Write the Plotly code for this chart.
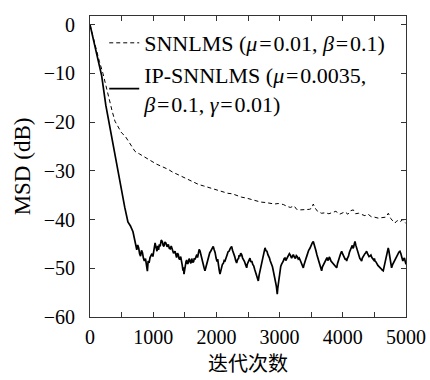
import plotly.graph_objects as go

# SNNLMS (dashed)
snn_iter = [0, 50, 100, 150, 205, 250, 300, 350, 395, 450, 500, 553, 600, 650, 712, 780, 840, 900, 976,
            1050, 1120, 1180, 1239, 1300, 1380, 1450, 1520, 1582, 1650, 1720, 1800, 1880, 1950, 2030,
            2109, 2180, 2250, 2320, 2400, 2480, 2560, 2637, 2700, 2780, 2850, 2920, 2980, 3058, 3120,
            3170, 3230, 3270, 3330, 3400, 3470, 3507, 3533, 3560, 3600, 3665, 3720, 3780, 3840, 3890,
            3950, 4000, 4034, 4080, 4120, 4166, 4200, 4250, 4300, 4350, 4400, 4450, 4500, 4561, 4620,
            4680, 4720, 4760, 4800, 4825, 4860, 4900, 4950, 5000]
snn_msd = [0, -2.6, -5.2, -7.6, -10, -12.5, -15.2, -17.7, -19.8, -21.2, -22.2, -22.8, -23.7, -24.8, -26,
           -26.5, -27, -27.5, -28.1, -28.6, -29, -29.3, -29.7, -30.2, -30.7, -31.2, -31.6, -32.1, -32.4,
           -32.8, -33.1, -33.4, -33.6, -34.0, -34.3, -34.6, -34.7, -35.1, -35.4, -35.6, -35.9, -36.1,
           -36.4, -36.5, -36.6, -36.8, -36.7, -36.9, -37.3, -37.5, -37.2, -37.9, -38.0, -38.0, -37.9,
           -37.7, -36.8, -37.6, -38.3, -38.7, -38.6, -38.8, -38.6, -38.3, -38.9, -38.5, -38.4, -38.9,
           -38.2, -38.0, -38.8, -38.7, -39.0, -39.2, -38.9, -39.4, -39.5, -39.7, -39.6, -39.5, -38.7,
           -39.8, -40.4, -40.7, -40.2, -40.5, -40.0, -40.8]

# IP-SNNLMS (solid)
ip_iter = [0, 100, 185, 250, 300, 350, 400, 450, 500, 550, 600, 640, 680, 710, 740, 755, 770, 785, 800,
           815, 830, 845, 860, 878, 896, 908, 920, 935, 950, 965, 980, 995, 1010, 1020, 1030, 1045, 1060,
           1072, 1085, 1098, 1110, 1127, 1144, 1157, 1170, 1185, 1200, 1220, 1239, 1255, 1270, 1285, 1300,
           1322, 1345, 1358, 1370, 1384, 1397, 1408, 1420, 1435, 1450, 1460, 1471, 1480, 1487, 1498, 1510,
           1520, 1530, 1542, 1555, 1568, 1582, 1596, 1610, 1625, 1640, 1650, 1661, 1675, 1690, 1702, 1713,
           1727, 1740, 1750, 1760, 1775, 1790, 1805, 1819, 1835, 1850, 1865, 1880, 1895, 1910, 1930, 1950,
           1965, 1980, 1995, 2010, 2020, 2030, 2044, 2057, 2068, 2080, 2095, 2110, 2123, 2136, 2153, 2170,
           2185, 2200, 2220, 2241, 2255, 2270, 2280, 2290, 2305, 2320, 2335, 2350, 2360, 2370, 2385, 2400,
           2415, 2430, 2445, 2460, 2470, 2479, 2490, 2500, 2515, 2531, 2545, 2560, 2575, 2590, 2605, 2620,
           2630, 2640, 2652, 2663, 2676, 2690, 2705, 2720, 2732, 2745, 2757, 2769, 2785, 2800, 2815, 2830,
           2840, 2850, 2862, 2874, 2887, 2900, 2915, 2930, 2940, 2950, 2957, 2963, 2971, 2980, 2993, 3006,
           3018, 3030, 3045, 3060, 3072, 3085, 3098, 3110, 3125, 3140, 3155, 3170, 3180, 3190, 3204, 3217,
           3233, 3250, 3265, 3280, 3295, 3310, 3325, 3340, 3357, 3375, 3388, 3400, 3415, 3430, 3445, 3460,
           3480, 3500, 3517, 3533, 3547, 3560, 3575, 3590, 3605, 3620, 3630, 3640, 3652, 3665, 3678, 3690,
           3705, 3720, 3735, 3750, 3762, 3775, 3786, 3797, 3813, 3830, 3845, 3860, 3880, 3903, 3917, 3930,
           3945, 3960, 3971, 3982, 3996, 4010, 4025, 4040, 4050, 4061, 4075, 4090, 4105, 4120, 4135, 4150,
           4160, 4170, 4182, 4193, 4207, 4220, 4235, 4250, 4260, 4270, 4284, 4298, 4309, 4320, 4335, 4350,
           4363, 4377, 4388, 4400, 4415, 4430, 4445, 4460, 4475, 4490, 4500, 4509, 4525, 4540, 4555, 4570,
           4585, 4600, 4620, 4640, 4655, 4670, 4685, 4700, 4710, 4719, 4730, 4740, 4756, 4772, 4786, 4800,
           4815, 4830, 4845, 4860, 4870, 4880, 4892, 4904, 4917, 4930, 4940, 4950, 4962, 4975, 4988, 5000]
ip_msd = [0, -5.5, -10.5, -16.5, -20, -23.5, -27, -30.5, -34.5, -37.5, -40.5, -41.3, -42.5, -44.4, -46.2,
          -45.2, -45.8, -47.0, -47.5, -46.3, -46.8, -47.9, -48.5, -48.0, -49.9, -50.6, -48.5, -48.9, -47.8,
          -47.2, -47.0, -47.6, -46.5, -45.6, -44.8, -45.7, -46.5, -45.4, -46.2, -45.1, -45.5, -44.2, -44.5,
          -45.3, -45.5, -44.6, -44.8, -45.6, -45.1, -45.9, -46.0, -45.4, -46.2, -46.9, -46.5, -47.2, -47.8,
          -46.9, -47.2, -48.0, -48.2, -47.6, -48.5, -49.4, -50.5, -49.8, -51.2, -50.1, -49.2, -48.6, -48.3,
          -49.1, -48.9, -48.0, -48.5, -49.0, -48.0, -48.8, -48.6, -47.9, -48.2, -47.6, -47.2, -47.8, -46.5,
          -46.1, -46.4, -47.0, -47.8, -48.6, -49.5, -49.9, -50.5, -49.6, -48.8, -48.1, -47.6, -46.8, -46.5,
          -46.0, -45.5, -46.2, -46.8, -47.9, -48.6, -48.1, -49.5, -50.3, -51.2, -50.4, -49.8, -49.2, -49.0,
          -48.4, -48.5, -47.6, -47.2, -46.6, -46.5, -45.9, -45.5, -46.3, -46.8, -47.1, -47.6, -48.4, -48.9,
          -48.2, -48.0, -47.3, -47.6, -46.9, -47.2, -47.9, -48.2, -48.6, -49.2, -49.6, -49.9, -49.1, -48.8,
          -48.3, -47.9, -48.7, -48.5, -49.2, -49.5, -50.2, -50.8, -51.1, -51.6, -51.9, -52.6, -51.4, -50.5,
          -49.6, -48.5, -47.4, -46.8, -46.2, -45.8, -46.4, -46.5, -47.2, -47.5, -47.9, -48.4, -48.8, -49.2,
          -49.7, -50.5, -51.3, -52.0, -53.1, -53.8, -54.6, -55.3, -54.1, -53.0, -51.6, -50.5, -49.6, -49.2,
          -48.9, -48.5, -48.0, -47.9, -48.4, -48.1, -47.8, -47.6, -47.0, -47.3, -47.6, -47.9, -47.5, -47.2,
          -47.7, -48.0, -47.4, -47.6, -48.1, -47.9, -48.3, -48.8, -49.3, -49.9, -49.2, -48.5, -48.1, -47.5,
          -46.8, -46.3, -45.9, -45.2, -44.8, -44.5, -45.0, -45.8, -46.4, -47.2, -47.9, -48.6, -48.9, -49.5,
          -50.1, -50.5, -49.7, -49.4, -48.8, -48.6, -48.0, -47.8, -48.4, -48.2, -47.7, -47.9, -48.5, -48.8,
          -49.1, -49.4, -49.6, -49.9, -49.0, -48.3, -47.6, -47.2, -46.8, -46.5, -47.0, -47.3, -47.9, -48.2,
          -48.0, -48.5, -47.9, -47.5, -46.7, -46.2, -45.6, -45.3, -45.9, -45.7, -45.0, -44.5, -45.3, -45.9,
          -46.4, -47.0, -47.6, -48.0, -48.2, -48.5, -47.9, -47.6, -47.1, -47.0, -46.8, -46.5, -46.9, -47.2,
          -47.6, -47.5, -47.3, -47.8, -48.1, -48.3, -48.0, -48.5, -48.7, -49.2, -49.4, -49.6, -49.9, -50.0,
          -50.3, -50.5, -49.6, -48.7, -47.8, -46.8, -46.3, -45.8, -46.5, -47.6, -48.7, -49.9, -49.3, -48.9,
          -48.4, -48.0, -47.6, -47.3, -47.0, -46.9, -46.6, -46.5, -46.9, -47.4, -48.0, -48.5, -48.1, -47.9,
          -48.6, -49.2]

x_tick_vals = [0, 1000, 2000, 3000, 4000, 5000]
y_tick_vals = [0, -10, -20, -30, -40, -50, -60]

serif = "Liberation Serif"
eq = "\u200a=\u200a"

fig = go.Figure()
fig.add_trace(go.Scatter(
    x=snn_iter, y=snn_msd, mode="lines",
    name=f"SNNLMS (<i>μ</i>{eq}0.01, <i>β</i>{eq}0.1)",
    line=dict(color="black", width=1, dash="4px,3px"),
))
fig.add_trace(go.Scatter(
    x=ip_iter, y=ip_msd, mode="lines",
    name=f"IP-SNNLMS (<i>μ</i>{eq}0.0035,<br><i>β</i>{eq}0.1, <i>γ</i>{eq}0.01)",
    line=dict(color="black", width=1.7),
))

axis_common = dict(
    showline=True, linecolor="#333", linewidth=1, mirror="ticks",
    ticks="inside", ticklen=5, tickcolor="#333", tickwidth=1,
    showgrid=False, zeroline=False, automargin=False,
    tickfont=dict(family=serif, size=20, color="black"),
)

fig.update_layout(
    width=430, height=380,
    margin=dict(l=90, r=24, t=16, b=63),
    paper_bgcolor="white", plot_bgcolor="white",
    showlegend=True,
    font=dict(family=serif),
    legend=dict(
        x=0.045, y=0.98, xanchor="left", yanchor="top",
        bgcolor="rgba(0,0,0,0)", borderwidth=0,
        font=dict(family=serif, size=22, color="black"),
        itemwidth=30, tracegroupgap=4,
    ),
    xaxis=dict(
        range=[0, 5000], tickvals=x_tick_vals, ticklabelstandoff=2,
        minor=dict(dtick=500, ticks="inside", ticklen=5, tickcolor="#333"),
        title=dict(text="迭代次数", font=dict(family="Noto Sans CJK SC", size=20, color="black"), standoff=8),
        **axis_common,
    ),
    yaxis=dict(
        range=[-60, 1.8], tickvals=y_tick_vals, ticklabelstandoff=10,
        title=dict(text="MSD (dB)", font=dict(family=serif, size=23, color="black"), standoff=6),
        **axis_common,
    ),
)

fig.write_html("out.html")
